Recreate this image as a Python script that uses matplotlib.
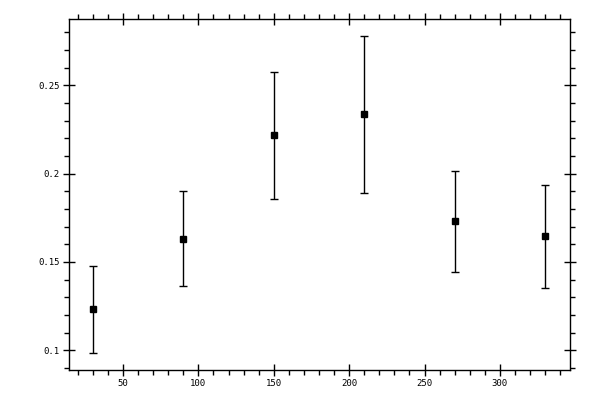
import matplotlib
matplotlib.use('Agg')
import matplotlib.pyplot as plt
from matplotlib.ticker import MultipleLocator, FormatStrFormatter
import numpy as np

# values
x = [30, 90, 150, 210, 270, 330]
y = [0.1232, 0.1628, 0.2217, 0.2336, 0.1730, 0.1645]
y_top = [0.1477, 0.1900, 0.2577, 0.2781, 0.2017, 0.1937]
y_bot = [0.0983, 0.1362, 0.1856, 0.1889, 0.1442, 0.1353]

y = np.array(y)
err = [y - np.array(y_bot), np.array(y_top) - y]

fig = plt.figure(figsize=(6, 4), dpi=100)
ax = fig.add_axes([0.1155, 0.0743, 0.835, 0.8775])

ax.errorbar(x, y, yerr=err, fmt='s', color='black', ms=5, lw=1, capsize=3, capthick=1)

ax.set_xlim(14.4, 346.7)
ax.set_ylim(0.0887, 0.2874)

ax.xaxis.set_major_locator(MultipleLocator(50))
ax.xaxis.set_minor_locator(MultipleLocator(10))
ax.yaxis.set_major_locator(MultipleLocator(0.05))
ax.yaxis.set_minor_locator(MultipleLocator(0.01))
ax.yaxis.set_major_formatter(FormatStrFormatter('%g'))

ax.tick_params(which='major', direction='inout', length=8, width=1,
               top=True, right=True, labelsize=6.5)
ax.tick_params(axis='x', which='major', pad=2.5)
ax.tick_params(axis='y', which='major', pad=3)
ax.tick_params(which='minor', direction='out', length=3.3, width=1,
               top=True, right=True)
for lab in ax.get_xticklabels() + ax.get_yticklabels():
    lab.set_family('DejaVu Sans Mono')
for s in ax.spines.values():
    s.set_linewidth(1)

fig.savefig('out.png', dpi=100)
